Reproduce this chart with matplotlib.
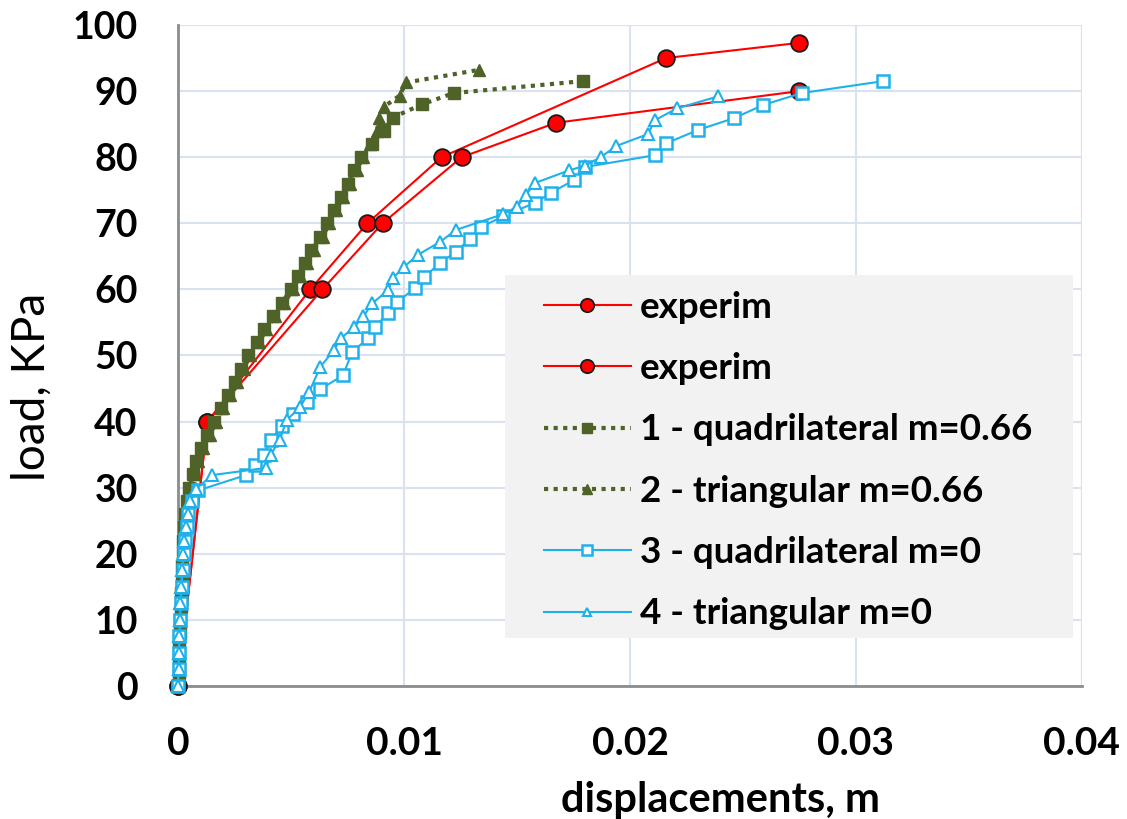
import numpy as np
import matplotlib
matplotlib.use("Agg")
import matplotlib.pyplot as plt
from matplotlib.patches import Rectangle

# ============================================================
# DATA
# ============================================================

# experimental curves
exp1_x = [0, 0.0013, 0.00585, 0.00838, 0.01166, 0.0216, 0.0275]
exp1_y = [0, 40, 60, 70, 80, 95, 97.3]

exp2_x = [0, 0.0013, 0.00639, 0.00905, 0.01255, 0.01672, 0.0275]
exp2_y = [0, 40, 60, 70, 80, 85.2, 90]

# 1 - quadrilateral m=0.66
q66_y = [0, 2, 4, 6, 8, 10, 12, 14, 16, 18,
         20, 22, 24, 26, 28, 30, 32, 34, 36, 38,
         40, 42, 44, 46, 48, 50, 52, 54, 56, 58,
         60, 62, 64, 66, 68, 70, 72, 74, 76, 78,
         80, 82, 84, 86, 88, 89.7, 91.5]
q66_x = [0, 0.00002, 0.00004, 0.00006, 0.00008, 0.0001, 0.00012, 0.00014, 0.00016, 0.00018,
         0.0002, 0.00023, 0.00027, 0.00032, 0.0004, 0.0005, 0.00065, 0.0008, 0.001, 0.0013,
         0.0016, 0.0019, 0.0022, 0.0025, 0.0028, 0.0031, 0.0035, 0.0038, 0.0042, 0.0046,
         0.005, 0.0053, 0.0056, 0.0059, 0.0063, 0.0066, 0.0069, 0.0072, 0.0075, 0.0078,
         0.0081, 0.0086, 0.0091, 0.0095, 0.0108, 0.0122, 0.0179]

# 2 - triangular m=0.66
t66_y = [0, 2, 4, 6, 8, 10, 12, 14, 16, 18,
         20, 22, 24, 26, 28, 30, 32, 34, 36, 38,
         40, 42, 44, 46, 48, 50, 52, 54, 56, 58,
         60, 62, 64, 66, 68, 70, 72, 74, 76, 78,
         80, 82, 84, 86, 87.6, 89.3, 91.3, 93.2]
t66_x = [0, 0.00002, 0.00004, 0.00006, 0.00008, 0.0001, 0.00012, 0.00014, 0.00016, 0.00019,
         0.00022, 0.00026, 0.0003, 0.00036, 0.00045, 0.00058, 0.0007, 0.00088, 0.0011, 0.0014,
         0.0017, 0.002, 0.0023, 0.0026, 0.0029, 0.0032, 0.0036, 0.0039, 0.0043, 0.0047,
         0.0051, 0.0054, 0.0057, 0.006, 0.0064, 0.0067, 0.007, 0.0073, 0.0076, 0.0079,
         0.0082, 0.0085, 0.0088, 0.0089, 0.0091, 0.0098, 0.0101, 0.0133]

# 3 - quadrilateral m=0
q0_y = [0, 2.5, 5, 7.5, 10, 12.5, 15, 17.5, 20, 22,
        24, 26, 28, 29.6, 31.9, 33.4, 35, 37.2, 39.3, 41.2,
        43, 44.9, 47, 50.5, 52.6, 54.3, 56.4, 58.1, 60.2, 61.9,
        64, 65.7, 67.6, 69.4, 71.1, 73.1, 74.6, 76.5, 78.5, 80.3,
        82.1, 84.1, 85.9, 87.9, 89.7, 91.5]
q0_x = [0, 0.00002, 0.00004, 0.00006, 0.0001, 0.00012, 0.00016, 0.0002, 0.00025, 0.0003,
        0.00038, 0.00045, 0.0006, 0.0009, 0.0030, 0.0034, 0.0038, 0.0041, 0.0046, 0.0051,
        0.0057, 0.0063, 0.0073, 0.0077, 0.0084, 0.0087, 0.0093, 0.0097, 0.0105, 0.0109,
        0.0116, 0.0123, 0.0129, 0.0134, 0.0144, 0.0158, 0.0165, 0.0175, 0.018, 0.0211,
        0.0216, 0.023, 0.0246, 0.0259, 0.0276, 0.0312]

# 4 - triangular m=0
t0_y = [0, 2.5, 5, 7.5, 10, 12.5, 15, 17.5, 20, 22,
        24, 26, 28, 29.8, 31.9, 33, 35, 37.2, 40.2, 42.2,
        44.5, 48.3, 50.8, 52.6, 54.3, 55.9, 57.9, 59.9, 61.7, 63.4,
        65.2, 67.2, 69, 71.4, 72.5, 74.3, 76.1, 78, 78.7, 80,
        81.7, 83.5, 85.6, 87.4, 89.2]
t0_x = [0, 0.00002, 0.00004, 0.00006, 0.00008, 0.0001, 0.00013, 0.00017, 0.00022, 0.00028,
        0.00034, 0.00042, 0.00055, 0.0008, 0.0015, 0.0039, 0.0041, 0.0045, 0.0048, 0.0054,
        0.0058, 0.0063, 0.0069, 0.0072, 0.0078, 0.0082, 0.0086, 0.0093, 0.0095, 0.0100,
        0.0106, 0.0116, 0.0123, 0.0144, 0.0150, 0.0154, 0.0158, 0.0173, 0.0180, 0.0187,
        0.0194, 0.0208, 0.0211, 0.0221, 0.0239]

x_ticks = [0, 0.01, 0.02, 0.03, 0.04]
x_tick_labels = ["0", "0.01", "0.02", "0.03", "0.04"]
y_ticks = list(range(0, 101, 10))

# ============================================================
# PLOT
# ============================================================

RED = "#ff0000"
GREEN = "#4f6228"
BLUE = "#1fb1ea"
GRID = "#d9e2f0"
FONT = ["Lato", "DejaVu Sans"]

fig = plt.figure(figsize=(11.27, 8.19), dpi=100)
ax = fig.add_axes([0.158, 0.1624, 0.802, 0.8071])

# same drawing order as the source (later series on top)
ax.plot(exp1_x, exp1_y, color=RED, lw=1.5, marker="o", ms=12, mfc=RED,
        mec="#1a1a1a", mew=1.3, label="experim", zorder=3, clip_on=False)
ax.plot(exp2_x, exp2_y, color=RED, lw=1.5, marker="o", ms=12, mfc=RED,
        mec="#1a1a1a", mew=1.3, label="experim", zorder=3, clip_on=False)
ax.plot(q66_x, q66_y, color=GREEN, lw=3, ls=(0, (1, 1.3)), marker="s", ms=9,
        mfc=GREEN, mec=GREEN, label="1 - quadrilateral m=0.66", zorder=4, clip_on=False)
ax.plot(t66_x, t66_y, color=GREEN, lw=3, ls=(0, (1, 1.3)), marker="^", ms=9,
        mfc=GREEN, mec=GREEN, label="2 - triangular m=0.66", zorder=4, clip_on=False)
ax.plot(q0_x, q0_y, color=BLUE, lw=1.5, marker="s", ms=9, mfc="white",
        mec=BLUE, mew=1.8, label="3 - quadrilateral m=0", zorder=5, clip_on=False)
ax.plot(t0_x, t0_y, color=BLUE, lw=1.5, marker="^", ms=8, mfc="white",
        mec=BLUE, mew=1.5, label="4 - triangular m=0", zorder=5, clip_on=False)

ax.set_xlim(0, 0.04)
ax.set_ylim(0, 100)
ax.set_xticks(x_ticks)
ax.set_xticklabels(x_tick_labels, fontfamily=FONT, fontweight="bold", fontsize=28)
ax.set_yticks(y_ticks)
ax.set_yticklabels([str(v) for v in y_ticks], fontfamily=FONT,
                   fontweight="bold", fontsize=27)
ax.tick_params(axis="y", length=0, pad=29)
ax.tick_params(axis="x", length=0, pad=29)

ax.grid(True, color=GRID, lw=1.5, zorder=0)
ax.set_axisbelow(True)
for s in ["top", "right"]:
    ax.spines[s].set_visible(False)
for s in ["left", "bottom"]:
    ax.spines[s].set_color("#8c8c8c")
    ax.spines[s].set_linewidth(2)
# right/top edges drawn like gridlines
ax.axvline(0.04, color=GRID, lw=1.5, zorder=0)
ax.axhline(100, color=GRID, lw=1.5, zorder=0)

ax.set_xlabel("displacements, m", fontfamily=FONT, fontweight="bold", fontsize=30)
ax.xaxis.label.set_va("center")
ax.xaxis.set_label_coords(0.600, -0.172)
ax.set_ylabel("load, KPa", fontfamily=FONT, fontsize=33)
ax.yaxis.label.set_va("center")
ax.yaxis.set_label_coords(-0.162, 0.452)

# legend background box
ax.add_patch(Rectangle((0.3617, 0.0726), 0.6283, 0.5492, transform=ax.transAxes,
                       facecolor="#f2f2f2", edgecolor="none", zorder=6))

handles, labels = ax.get_legend_handles_labels()
leg = ax.legend(handles, labels, loc="upper left", bbox_to_anchor=(0.405, 0.598),
                prop={"family": FONT, "weight": "bold", "size": 26.5},
                frameon=False, handlelength=2.35, handletextpad=0.25,
                labelspacing=0.77, borderpad=0, borderaxespad=0, markerscale=0.8)
leg.set_zorder(7)

plt.savefig("out.png", dpi=100)
